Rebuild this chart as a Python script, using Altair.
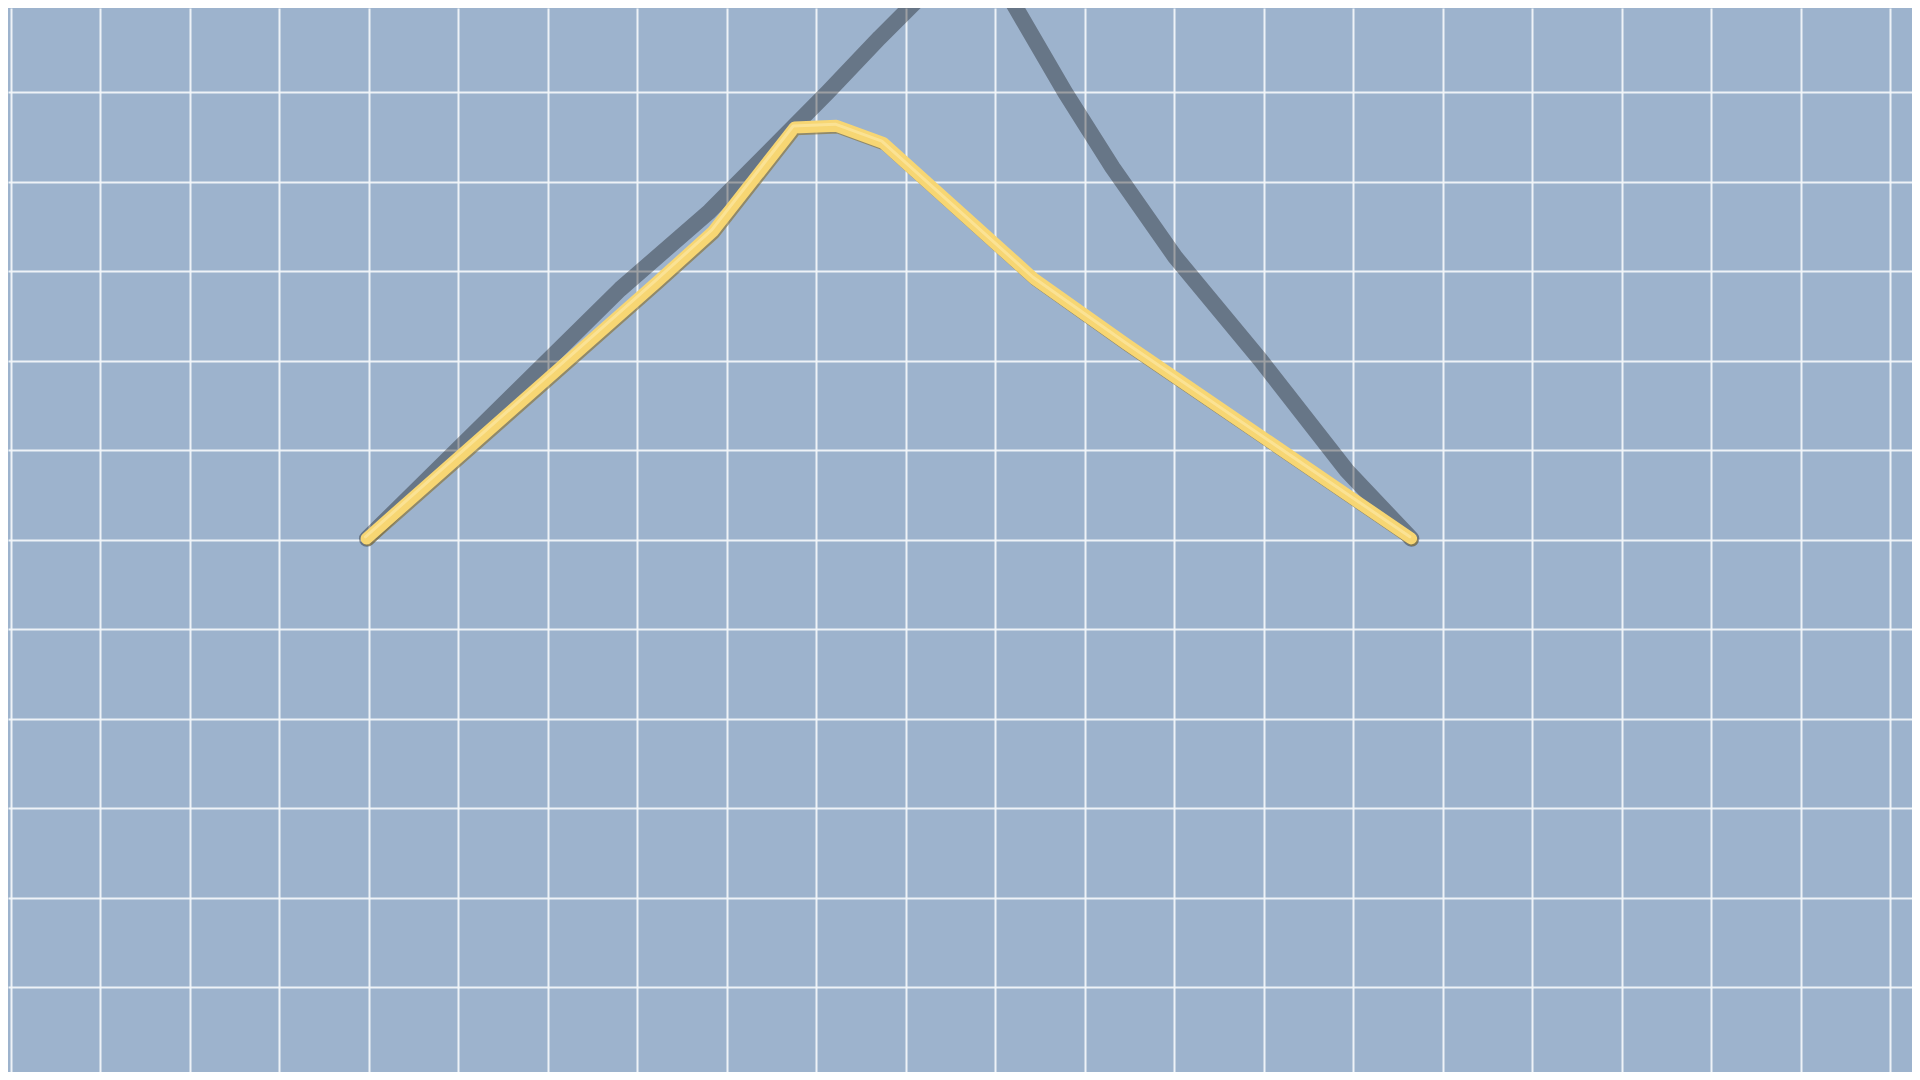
import pandas as pd
import altair as alt

# grid positions (in grid units)
grid_x = list(range(0, 22))
grid_y = list(range(0, 13))

# yellow tube path
tube_x = [3.98, 7.23, 7.85, 8.76, 9.23, 9.75, 11.44, 12.47, 15.65]
tube_y = [5.99, 3.12, 2.56, 1.40, 1.38, 1.57, 3.09, 3.82, 5.99]

# dark shadow path (goes above the top edge)
shadow_x = [3.98, 6.81, 7.81, 9.13, 9.71, 10.13, 10.45, 10.75, 10.95, 11.18, 11.78, 12.31, 13.01, 13.97, 14.93, 15.65]
shadow_y = [5.99, 3.20, 2.33, 1.00, 0.39, -0.03, -0.42, -0.72, -0.45, -0.03, 1.00, 1.84, 2.84, 4.00, 5.23, 5.99]

tube = pd.DataFrame({'x': tube_x, 'y': tube_y, 'i': range(len(tube_x))})
shadow = pd.DataFrame({'x': shadow_x, 'y': shadow_y, 'i': range(len(shadow_x))})

W, H = 1904, 1064

x_scale = alt.Scale(domain=[-0.0302, 21.2436], nice=False, zero=False)
y_scale = alt.Scale(domain=[0.0592, 11.9475], nice=False, zero=False, reverse=True)

x_axis = alt.Axis(values=grid_x, grid=True, gridColor='#f2f5f9', gridWidth=2, gridOpacity=0.95,
                  labels=False, ticks=False, domain=False, title=None)
y_axis = alt.Axis(values=grid_y, grid=True, gridColor='#f2f5f9', gridWidth=2, gridOpacity=0.95,
                  labels=False, ticks=False, domain=False, title=None)

enc = dict(
    x=alt.X('x:Q', scale=x_scale, axis=x_axis),
    y=alt.Y('y:Q', scale=y_scale, axis=y_axis),
    order='i:O'
)

shadow_line = alt.Chart(shadow).mark_line(
    color='black', opacity=0.34, strokeWidth=16, strokeJoin='round', strokeCap='round', clip=True
).encode(**enc)

tube_edge = alt.Chart(tube).mark_line(
    color='#8a7740', opacity=0.7, strokeWidth=11, strokeJoin='round', strokeCap='round',
    xOffset=1.2, yOffset=1.8, clip=True
).encode(**enc)

tube_body = alt.Chart(tube).mark_line(
    color='#f7d673', strokeWidth=12, strokeJoin='round', strokeCap='round',
    xOffset=-0.3, yOffset=-0.4, clip=True
).encode(**enc)

tube_light = alt.Chart(tube).mark_line(
    color='#fff2bc', strokeWidth=3, opacity=0.45, strokeJoin='round', strokeCap='round',
    xOffset=-1.5, yOffset=-2, clip=True
).encode(**enc)

chart = alt.layer(shadow_line, tube_edge, tube_body, tube_light).properties(
    width=W,
    height=H,
    autosize=alt.AutoSizeParams(type='none'),
    padding=0,
    background='#9db3cd'
).configure_view(
    strokeWidth=0
)

chart.save("out.html", embed_options={"renderer": "svg", "actions": False})
